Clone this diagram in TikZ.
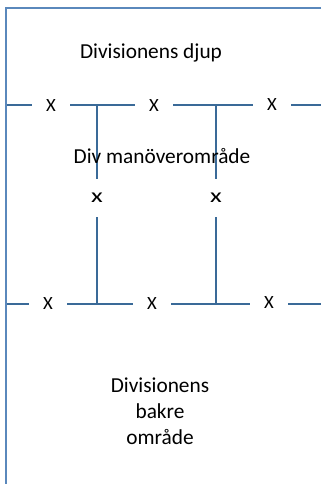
\documentclass[tikz,border=0pt]{standalone}
\usepackage{fontspec}
\setmainfont{Carlito}
\definecolor{linjeblue}{HTML}{3A6A98}
\definecolor{ramblue}{HTML}{5A88BC}
\newcommand{\breddx}{\scalebox{1.35}[1]{x}}
\tikzset{
  linje/.style={draw=linjeblue, line width=1.6pt},
  ram/.style={draw=ramblue, line width=1.1pt},
  kryss/.style={inner sep=0pt, minimum size=28.5pt, font=\fontsize{14}{15}\selectfont},
  etikett/.style={align=center, font=\fontsize{16}{19.5}\selectfont}
}
\begin{document}
\begin{tikzpicture}[x=0.75pt,y=-0.75pt]
  \useasboundingbox (0,0) rectangle (321,484);
  % ram
  \draw [ram] (321,8) -- (6,8) -- (6,484);
  % fraemre linje
  \coordinate (fl0) at (7,105);
  \node [kryss] (fx1) at (51,106) {X};
  \node [kryss] (fx2) at (154,106) {X};
  \node [kryss] (fx3) at (272,105) {X};
  \coordinate (fl1) at (321,105);
  \coordinate (ft1) at (97,105);
  \coordinate (ft2) at (216,105);
  % bakre linje
  \coordinate (bl0) at (7,304);
  \node [kryss] (bx1) at (48,304) {X};
  \node [kryss] (bx2) at (152,304) {X};
  \node [kryss] (bx3) at (269,303) {X};
  \coordinate (bl1) at (321,304);
  \coordinate (bt1) at (97,304);
  \coordinate (bt2) at (216,304);
  % sidogranser
  \node [kryss, font=\fontsize{15}{16}\selectfont] (sx1) at (97,198) {\breddx};
  \node [kryss, font=\fontsize{15}{16}\selectfont] (sx2) at (216,198) {\breddx};
  \draw [linje] (fl0) -- (fx1.west |- fl0);
  \draw [linje] (fx1.east |- fl0) -- (fx2.west |- fl0);
  \draw [linje] (fx2.east |- fl0) -- (fx3.west);
  \draw [linje] (fx3.east) -- (fl1);
  \draw [linje] (bl0) -- (bx1.west);
  \draw [linje] (bx1.east) -- (bx2.west);
  \draw [linje] (bx2.east) -- (bx3.west |- bl0);
  \draw [linje] (bx3.east |- bl0) -- (bl1);
  \draw [linje] (ft1) -- (sx1.north);
  \draw [linje] (sx1.south) -- (bt1);
  \draw [linje] (ft2) -- (sx2.north);
  \draw [linje] (sx2.south) -- (bt2);
  % texter
  \node [etikett] (djup) at (151,53) {Divisionens djup};
  \node [etikett] (manover) at (162,156) {Div manöverområde};
  \node [etikett] (bakre) at (160,411) {Divisionens\\bakre\\område};
\end{tikzpicture}
\end{document}
